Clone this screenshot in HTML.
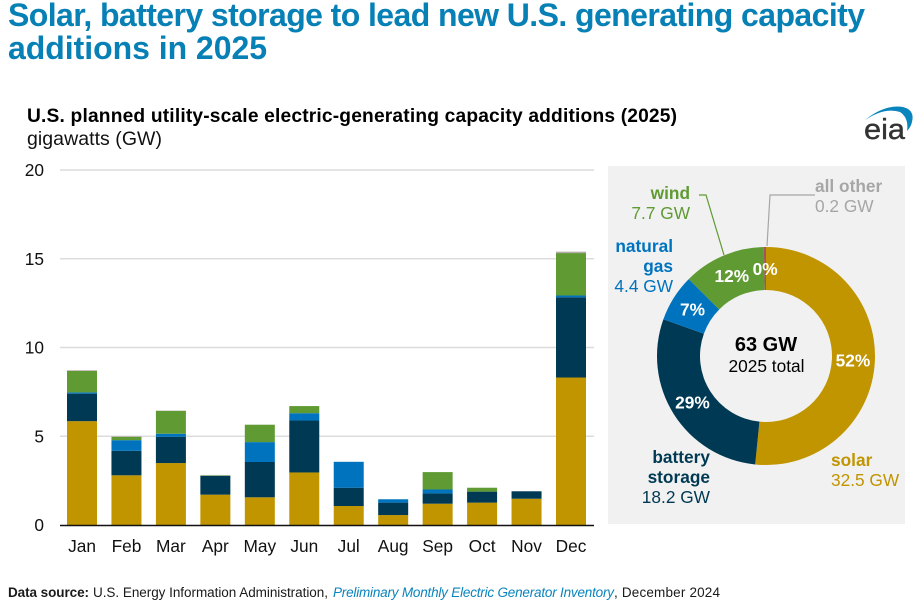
<!DOCTYPE html>
<html lang="en">
<head>
<meta charset="utf-8">
<title>Solar, battery storage to lead new U.S. generating capacity additions in 2025</title>
<style>
html,body{margin:0;padding:0;background:#fff;width:921px;height:616px;overflow:hidden}
svg{display:block;font-family:"Liberation Sans",Arial,sans-serif}
</style>
</head>
<body>
<svg id="chart" width="921" height="616" viewBox="0 0 921 616" xmlns="http://www.w3.org/2000/svg">
  <text x="8" y="26" font-size="32" font-weight="700" fill="#0780b6" textLength="857" lengthAdjust="spacing">Solar, battery storage to lead new U.S. generating capacity</text>
  <text x="8" y="59" font-size="32" font-weight="700" fill="#0780b6" textLength="259" lengthAdjust="spacing">additions in 2025</text>

  <text x="27" y="122" font-size="19.2" font-weight="700" fill="#000" textLength="650" lengthAdjust="spacing">U.S. planned utility-scale electric-generating capacity additions (2025)</text>
  <text x="27" y="145" font-size="19.5" fill="#111" textLength="135" lengthAdjust="spacing">gigawatts (GW)</text>

  <g>
    <path d="M865 120 Q885 104 903 107 Q915 110 912 122 Q911 127 907 131 Q909 118 900 112 Q885 107 865 120Z" fill="#0a84bd"/>
    <text x="864" y="139" font-size="29" fill="#333" stroke="#333" stroke-width="0.4" textLength="41" lengthAdjust="spacingAndGlyphs">eia</text>
  </g>

  <g id="grid"></g>
  <g id="bars"></g>
  <line x1="60" x2="594" y1="525.5" y2="525.5" stroke="#111" stroke-width="1.5"/>
  <g id="xlabels"></g>

  <rect x="608" y="166" width="297" height="358" fill="#f1f1f1"/>
  <g id="donut"></g>
  <g id="pct"></g>

  <text x="766" y="351" text-anchor="middle" font-size="20" font-weight="700" fill="#000">63 GW</text>
  <text x="766.5" y="372" text-anchor="middle" font-size="17.3" fill="#000">2025 total</text>

  <polyline points="699,195 706,195 724,255" fill="none" stroke="#5f9a33" stroke-width="1.2"/>
  <polyline points="815,195 770,195 767,246" fill="none" stroke="#a6a6a6" stroke-width="1.2"/>

  <g font-size="17.3" fill="#5f9a33" text-anchor="end">
    <text x="690" y="199" font-weight="700">wind</text>
    <text x="690" y="219">7.7 GW</text>
  </g>
  <g font-size="17.3" fill="#0073bf" text-anchor="end">
    <text x="673" y="252" font-weight="700">natural</text>
    <text x="673" y="272" font-weight="700">gas</text>
    <text x="673" y="292">4.4 GW</text>
  </g>
  <g font-size="17.3" fill="#003953" text-anchor="end">
    <text x="710" y="463" font-weight="700">battery</text>
    <text x="710" y="483" font-weight="700">storage</text>
    <text x="710" y="503">18.2 GW</text>
  </g>
  <g font-size="17.3" fill="#c09500">
    <text x="831" y="466" font-weight="700">solar</text>
    <text x="831" y="486">32.5 GW</text>
  </g>
  <g font-size="17.3" fill="#a6a6a6">
    <text x="815" y="192" font-weight="700">all other</text>
    <text x="815" y="212">0.2 GW</text>
  </g>

  <g font-size="13.5" fill="#1a1a1a">
    <text x="8" y="597" font-weight="700" textLength="81" lengthAdjust="spacing">Data source:</text>
    <text x="93" y="597" textLength="235" lengthAdjust="spacing">U.S. Energy Information Administration,</text>
    <text x="333" y="597" font-style="italic" fill="#0a84bd" textLength="281" lengthAdjust="spacing">Preliminary Monthly Electric Generator Inventory</text>
    <text x="614" y="597" textLength="106" lengthAdjust="spacing">, December 2024</text>
  </g>
</svg>

<script>
// Monthly additions, GW
const months = ["Jan","Feb","Mar","Apr","May","Jun","Jul","Aug","Sep","Oct","Nov","Dec"];
const solar = [5.85,2.80,3.49,1.71,1.56,2.96,1.07,0.56,1.20,1.26,1.48,8.31];
const battery = [1.55,1.38,1.48,1.05,1.99,2.93,1.03,0.70,0.58,0.62,0.42,4.52];
const naturalGas = [0.07,0.60,0.17,0.01,1.12,0.41,1.46,0.19,0.22,0.00,0.00,0.10];
const wind = [1.21,0.19,1.29,0.03,0.98,0.40,0.00,0.00,0.98,0.22,0.00,2.39];
const allOther = [0.04,0.03,0.02,0.02,0.00,0.00,0.00,0.00,0.00,0.00,0.00,0.08];
const yTicks = [0,5,10,15,20];

// Annual totals, GW, clockwise from the top of the ring
const donutNames = ["solar","battery-storage","natural-gas","wind","all-other"];
const donutValues = [32.5,18.2,4.4,7.7,0.2];
const donutPercents = ["52%","29%","7%","12%","0%"];

const NS = "http://www.w3.org/2000/svg";
const seriesColors = ["#c09500","#003953","#0073bf","#5f9a33","#a8505f"];
const barColors = ["#c09500","#003953","#0073bf","#5f9a33","#b5aaaa"];
const y = v => 525 - v * (355 / 20);
const x = i => 82 + i * (489 / 11);
const barWidth = 30;

const grid = document.getElementById("grid");
yTicks.forEach(function (t) {
  if (t > 0) {
    const line = document.createElementNS(NS, "line");
    
    
    line.setAttribute("x1", 60);
    line.setAttribute("x2", 594);
    line.setAttribute("y1", y(t));
    line.setAttribute("y2", y(t));
    line.setAttribute("stroke", "#dcdcdc");
    line.setAttribute("stroke-width", 1.5);
    grid.appendChild(line);
  }
  const label = document.createElementNS(NS, "text");
  
  
  label.setAttribute("x", 44);
  label.setAttribute("y", y(t) + 6);
  label.setAttribute("text-anchor", "end");
  label.setAttribute("font-size", 17.3);
  label.setAttribute("fill", "#111");
  label.textContent = t;
  grid.appendChild(label);
});

const bars = document.getElementById("bars");
const stacks = [solar, battery, naturalGas, wind, allOther];
months.forEach(function (m, i) {
  let base = 0;
  stacks.forEach(function (series, s) {
    const v = series[i];
    if (v <= 0) return;
    const r = document.createElementNS(NS, "rect");
    
    
    r.setAttribute("x", x(i) - barWidth / 2);
    r.setAttribute("y", y(base + v));
    r.setAttribute("width", barWidth);
    r.setAttribute("height", y(base) - y(base + v));
    r.setAttribute("fill", barColors[s]);
    bars.appendChild(r);
    base += v;
  });
});

const xlabels = document.getElementById("xlabels");
months.forEach(function (m, i) {
  const t = document.createElementNS(NS, "text");
  
  
  t.setAttribute("x", x(i));
  t.setAttribute("y", 552);
  t.setAttribute("text-anchor", "middle");
  t.setAttribute("font-size", 17.3);
  t.setAttribute("fill", "#111");
  t.textContent = m;
  xlabels.appendChild(t);
});

const cx = 766, cy = 356, outerR = 109, innerR = 66, labelR = 87;
const total = donutValues.reduce(function (a, b) { return a + b; }, 0);
const polar = function (r, frac) {
  const a = frac * 2 * Math.PI;
  return [cx + r * Math.sin(a), cy - r * Math.cos(a)];
};
const donut = document.getElementById("donut");
const pct = document.getElementById("pct");
let cum = 0;
donutValues.forEach(function (v, i) {
  const f0 = cum / total;
  const f1 = (cum + v) / total;
  const large = f1 - f0 > 0.5 ? 1 : 0;
  const a = polar(outerR, f0), b = polar(outerR, f1), c = polar(innerR, f1), d = polar(innerR, f0);
  const p = document.createElementNS(NS, "path");
  
  
  p.setAttribute("data-series", donutNames[i]);
  p.setAttribute("d", "M" + a + "A" + outerR + " " + outerR + " 0 " + large + " 1 " + b + "L" + c + "A" + innerR + " " + innerR + " 0 " + large + " 0 " + d + "Z");
  p.setAttribute("fill", seriesColors[i]);
  donut.appendChild(p);

  const lp = polar(labelR, (f0 + f1) / 2);
  const t = document.createElementNS(NS, "text");
  
  
  t.setAttribute("x", lp[0]);
  t.setAttribute("y", lp[1] + 6);
  t.setAttribute("text-anchor", "middle");
  t.setAttribute("font-size", 17.3);
  t.setAttribute("font-weight", "700");
  t.setAttribute("fill", "#fff");
  t.textContent = donutPercents[i];
  pct.appendChild(t);
  cum += v;
});
</script>
</body>
</html>
